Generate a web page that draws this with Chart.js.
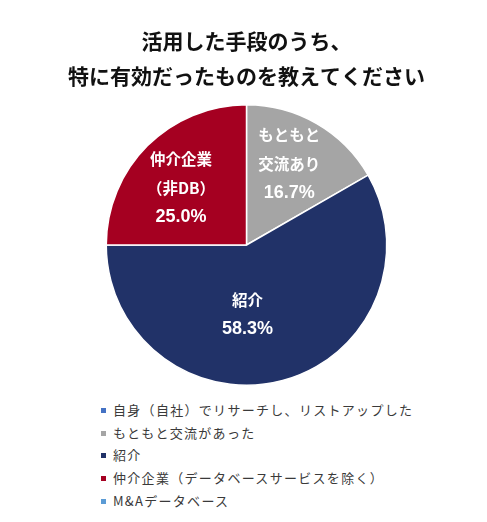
<!DOCTYPE html>
<html>
<head>
<meta charset="utf-8">
<script src="https://cdn.jsdelivr.net/npm/chart.js@4.4.1/dist/chart.umd.min.js"></script>
<style>
    body { margin: 0; background: #fff; }
    #wrap { position: relative; width: 487px; height: 522px; }
    #chartBox { position: absolute; left: 0; top: 0; width: 487px; height: 390px; }
    #legend { position: absolute; left: 98px; top: 399px; list-style: none; margin: 0; padding: 0;
        font-family: "Noto Sans CJK JP", sans-serif; font-size: 13px; letter-spacing: 1.3px; color: #3a3a3a; }
    #legend li { height: 22.7px; line-height: 22.7px; display: flex; align-items: center; }
    #legend .box { width: 5px; height: 5px; margin-left: 3px; margin-right: 7px; }
</style>
</head>
<body>
<div id="wrap">
    <div id="chartBox"><canvas id="pie"></canvas></div>
    <ul id="legend"></ul>
</div>
<script>
let titleLines = ["活用した手段のうち、", "特に有効だったものを教えてください"];

let categories = [
    "自身（自社）でリサーチし、リストアップした",
    "もともと交流があった",
    "紹介",
    "仲介企業（データベースサービスを除く）",
    "M&Aデータベース"
];
let shares = [0, 16.7, 58.3, 25.0, 0];
let colors = ["#4472c4", "#a5a5a5", "#213268", "#a50021", "#5b9bd5"];

// text written inside each slice (empty for the zero slices)
let sliceNames = [[], ["もともと", "交流あり"], ["紹介"], ["仲介企業", "（非DB）"], []];

// where each label block sits: fraction of radius along the mid angle, plus a small nudge
let labelPlace = [null, { r: 0.65, dx: -3, dy: -2 }, { r: 0.5, dx: -17, dy: 2 }, { r: 0.62, dx: -4, dy: 5 }, null];

const sliceLabels = {
    id: "sliceLabels",
    afterDatasetsDraw(chart) {
        let ctx = chart.ctx;
        let arcs = chart.getDatasetMeta(0).data;
        ctx.save();
        ctx.fillStyle = "#fff";
        ctx.textAlign = "center";
        ctx.textBaseline = "middle";
        arcs.forEach((arc, i) => {
            if (!shares[i] || !labelPlace[i]) return;
            let p = arc.getProps(["x", "y", "startAngle", "endAngle", "outerRadius"], true);
            let mid = (p.startAngle + p.endAngle) / 2;
            let dist = p.outerRadius * labelPlace[i].r;
            let cx = p.x + Math.cos(mid) * dist + labelPlace[i].dx;
            let cy = p.y + Math.sin(mid) * dist + labelPlace[i].dy;
            let lines = sliceNames[i].concat([shares[i].toFixed(1) + "%"]);
            let step = 29;
            let y0 = cy - (lines.length - 1) * step / 2;
            lines.forEach((t, k) => {
                let isPct = k === lines.length - 1;
                ctx.font = isPct ? "bold 18px 'Liberation Sans', Arial, sans-serif"
                                 : "bold 15.5px 'Noto Sans CJK JP', sans-serif";
                ctx.fillText(t, cx, y0 + k * step);
            });
        });
        ctx.restore();
    }
};

let chart = new Chart(document.getElementById("pie"), {
    type: "pie",
    data: {
        labels: categories,
        datasets: [{
            data: shares,
            backgroundColor: colors,
            borderColor: "#fff",
            borderWidth: 1.5
        }]
    },
    options: {
        responsive: true,
        maintainAspectRatio: false,
        animation: false,
        layout: { padding: { left: 6, right: 0, top: 0, bottom: 4 } },
        plugins: {
            legend: { display: false },
            tooltip: { enabled: false },
            title: {
                display: true,
                text: titleLines,
                color: "#111",
                font: { family: "'Noto Sans CJK JP', sans-serif", size: 21, weight: "bold", lineHeight: 1.667 },
                padding: { top: 24, bottom: 10 }
            }
        }
    },
    plugins: [sliceLabels]
});

function buildLegend() {
    let items = chart.options.plugins.legend.labels.generateLabels(chart);
    let ul = document.getElementById("legend");
    ul.innerHTML = "";
    items.forEach(it => {
        ul.innerHTML += `<li><span class="box" style="background:${it.fillStyle}"></span>${it.text}</li>`;
    });
}
buildLegend();
</script>
</body>
</html>
